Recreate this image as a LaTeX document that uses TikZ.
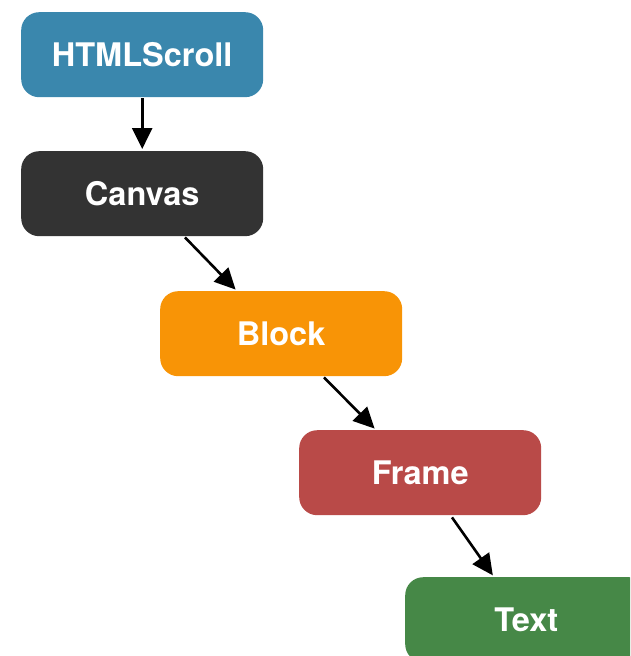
\documentclass[tikz,border=0pt]{standalone}
\usepackage{fontspec}
\setmainfont{TeX Gyre Heros}
\usetikzlibrary{arrows.meta}
\definecolor{cblue}{HTML}{3A87AD}
\definecolor{cdark}{HTML}{333333}
\definecolor{corange}{HTML}{F89406}
\definecolor{cred}{HTML}{B94A48}
\definecolor{cgreen}{HTML}{468847}
\tikzset{
  stage/.style={rectangle, rounded corners=18pt, minimum width=242pt, minimum height=85pt,
    inner sep=0pt, text=white, font=\fontsize{32.5}{38}\selectfont\bfseries, anchor=north west},
  link/.style={line width=2.6pt, -{Triangle[length=21pt,width=20pt]}, shorten >=2pt}
}
\begin{document}
\begin{tikzpicture}[x=1pt,y=-1pt]
  \useasboundingbox (0,0) rectangle (630,656);
  \begin{scope}
    \clip (0,0) rectangle (630,656);
    \node[stage, fill=cblue]   (html)   at (21,12)  {HTMLScroll};
    \node[stage, fill=cdark]   (canvas) at (21,151) {Canvas};
    \node[stage, fill=corange] (block)  at (160,291) {Block};
    \node[stage, fill=cred]    (frame)  at (299,430) {Frame};
    \node[stage, fill=cgreen]  (text)   at (405,577) {Text};
  \end{scope}
  \draw[link] ([yshift=-1pt]html.south) -- (canvas.north);
  \draw[link] ([xshift=164pt,yshift=-1pt]canvas.south west) -- ([xshift=77pt]block.north west);
  \draw[link] ([xshift=164pt,yshift=-1pt]block.south west) -- ([xshift=77pt]frame.north west);
  \draw[link] ([xshift=153pt,yshift=-2pt]frame.south west) -- ([xshift=89pt]text.north west);
\end{tikzpicture}
\end{document}
